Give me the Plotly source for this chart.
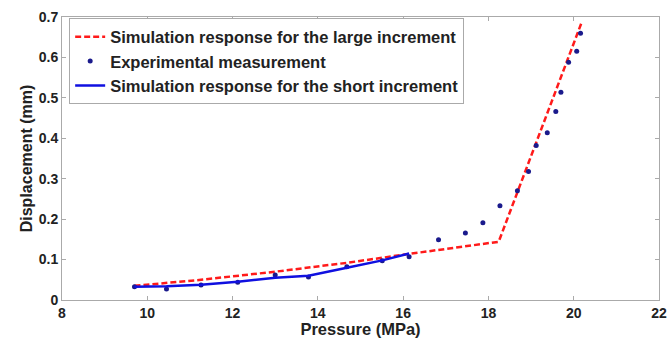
import plotly.graph_objects as go

# Experimental measurement
exp_x = [9.7, 10.45, 11.26, 12.12, 13.0, 13.78, 14.68, 15.51, 16.14, 16.83, 17.46, 17.87,
         18.27, 18.68, 18.94, 19.12, 19.38, 19.58, 19.70, 19.88, 20.07, 20.16]
exp_y = [0.033, 0.027, 0.037, 0.044, 0.062, 0.057, 0.082, 0.097, 0.107, 0.149, 0.166, 0.191,
         0.233, 0.270, 0.318, 0.382, 0.414, 0.466, 0.514, 0.588, 0.615, 0.660]

# Simulation response, large increment
large_x = [9.7, 11.26, 13.0, 14.68, 16.14, 18.24, 20.18]
large_y = [0.035, 0.050, 0.070, 0.092, 0.114, 0.144, 0.685]

# Simulation response, short increment
short_x = [9.7, 10.45, 11.26, 12.12, 13.0, 13.78, 14.68, 15.51, 16.14]
short_y = [0.033, 0.034, 0.038, 0.045, 0.055, 0.060, 0.080, 0.098, 0.115]

x_ticks = [8, 10, 12, 14, 16, 18, 20, 22]
y_ticks = [0, 0.1, 0.2, 0.3, 0.4, 0.5, 0.6, 0.7]
y_tick_text = ["0", "0.1", "0.2", "0.3", "0.4", "0.5", "0.6", "0.7"]

FONT = "Liberation Sans, Arial"

fig = go.Figure()
fig.add_trace(go.Scatter(x=large_x, y=large_y, mode="lines",
                         name="<b>Simulation response for the large increment</b>",
                         line=dict(color="#ff1a1a", width=2.5, dash="6px,3px")))
fig.add_trace(go.Scatter(x=exp_x, y=exp_y, mode="markers",
                         name="<b>Experimental measurement</b>",
                         marker=dict(color="#1a1a8c", size=5)))
fig.add_trace(go.Scatter(x=short_x, y=short_y, mode="lines",
                         name="<b>Simulation response for the short increment</b>",
                         line=dict(color="#1010e0", width=2.5)))

axis_common = dict(showline=True, linecolor="#aaaaaa", linewidth=1, mirror="ticks",
                   ticks="inside", ticklen=4, tickcolor="#aaaaaa", showgrid=False,
                   zeroline=False, ticklabeloverflow="allow", automargin=False,
                   tickfont=dict(family=FONT, size=14, color="#222222"))

fig.update_layout(
    width=668, height=338,
    margin=dict(l=62, r=9, t=17, b=38),
    plot_bgcolor="white", paper_bgcolor="white",
    font=dict(family=FONT, color="#222222"),
    xaxis=dict(range=[8, 22.0001], tickvals=x_ticks,
               ticktext=["<b>%d</b>" % t for t in x_ticks],
               title=dict(text="<b>Pressure (MPa)</b>", font=dict(size=16.5), standoff=0),
               **axis_common),
    yaxis=dict(range=[0, 0.7], tickvals=y_ticks, ticktext=["<b>%s</b>" % t for t in y_tick_text],
               title=dict(text="<b>Displacement (mm)</b>", font=dict(size=16), standoff=2),
               **axis_common),
    legend=dict(x=0.012, y=0.995, xanchor="left", yanchor="top",
                bgcolor="white", bordercolor="#aaaaaa", borderwidth=1,
                font=dict(size=16.5, color="#222222"), itemwidth=30,
                tracegroupgap=0),
    showlegend=True,
)

fig.write_html("out.html")
